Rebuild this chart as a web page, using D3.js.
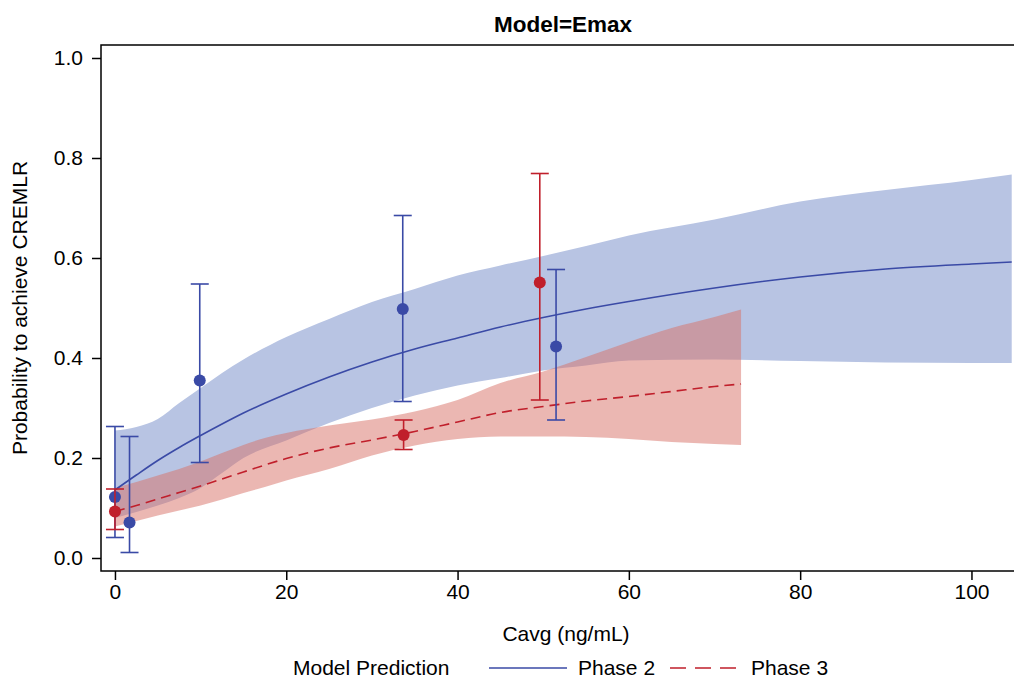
<!DOCTYPE html>
<html>
<head>
<meta charset="utf-8">
<script src="https://cdn.jsdelivr.net/npm/d3@7"></script>
<style>
  body { margin: 0; background: #fff; }
  text { font-family: "Liberation Sans", Arial, sans-serif; fill: #000; }
</style>
</head>
<body>
<div id="chart"></div>
<script>
// ---- data ----
var xTicks = [0, 20, 40, 60, 80, 100];
var yTicks = [0, 0.2, 0.4, 0.6, 0.8, 1.0];

// Phase 2 model prediction (median + band)
var p2Cavg = [0, 2.5, 5, 7.5, 10, 12.5, 15, 20, 25, 30, 35, 40, 45, 50, 55, 60, 70, 80, 90, 100, 104.7];
var p2Mean = [0.136, 0.166, 0.195, 0.221, 0.245, 0.268, 0.29, 0.328, 0.362, 0.392, 0.418, 0.44, 0.462, 0.481, 0.498, 0.513, 0.54, 0.562, 0.578, 0.588, 0.592];
var p2Lo   = [0.08, 0.092, 0.105, 0.12, 0.14, 0.17, 0.2, 0.235, 0.27, 0.3, 0.325, 0.345, 0.36, 0.375, 0.385, 0.395, 0.397, 0.394, 0.391, 0.39, 0.39];
var p2Hi   = [0.255, 0.262, 0.278, 0.31, 0.34, 0.37, 0.397, 0.442, 0.478, 0.512, 0.538, 0.565, 0.585, 0.604, 0.624, 0.645, 0.677, 0.713, 0.736, 0.756, 0.767];

// Phase 3 model prediction
var p3Cavg = [0, 2.5, 5, 7.5, 10, 12.5, 15, 17.5, 20, 25, 30, 35, 40, 45, 50, 55, 60, 65, 70, 73.1];
var p3Mean = [0.093, 0.105, 0.118, 0.131, 0.144, 0.158, 0.172, 0.186, 0.199, 0.22, 0.236, 0.253, 0.272, 0.291, 0.303, 0.314, 0.323, 0.333, 0.343, 0.348];
var p3Lo   = [0.063, 0.074, 0.085, 0.095, 0.105, 0.117, 0.13, 0.142, 0.155, 0.178, 0.205, 0.225, 0.238, 0.243, 0.243, 0.242, 0.238, 0.232, 0.228, 0.226];
var p3Hi   = [0.14, 0.152, 0.165, 0.178, 0.193, 0.21, 0.226, 0.24, 0.25, 0.265, 0.277, 0.293, 0.316, 0.35, 0.373, 0.402, 0.432, 0.46, 0.482, 0.497];

// observed proportions with error bars
var obs2 = [
  { cavg: 0, p: 0.122, lo: 0.041, hi: 0.263 },
  { cavg: 1.7, p: 0.071, lo: 0.011, hi: 0.243 },
  { cavg: 9.9, p: 0.355, lo: 0.191, hi: 0.548 },
  { cavg: 33.6, p: 0.498, lo: 0.313, hi: 0.685 },
  { cavg: 51.5, p: 0.423, lo: 0.276, hi: 0.577 }
];
var obs3 = [
  { cavg: 0, p: 0.093, lo: 0.057, hi: 0.138 },
  { cavg: 33.7, p: 0.246, lo: 0.217, hi: 0.276 },
  { cavg: 49.6, p: 0.551, lo: 0.316, hi: 0.769 }
];

var blue = '#3a4aa6', red = '#c01f2b';

var width = 1014, height = 679;
var mLeft = 101, mRight = 1016, mTop = 45, mBottom = 571;
var fs = 21;

var xScale = d3.scaleLinear().domain([-1.63, 105.2]).range([mLeft, mRight]);
var yScale = d3.scaleLinear().domain([-0.026, 1.026]).range([mBottom, mTop]);

var svg = d3.select('#chart').append('svg')
    .attr('width', width)
    .attr('height', height);

function rows(xs, m, lo, hi) {
    return xs.map(function (x, i) { return { x: x, m: m[i], lo: lo[i], hi: hi[i] }; });
}
var p2 = rows(p2Cavg, p2Mean, p2Lo, p2Hi);
var p3 = rows(p3Cavg, p3Mean, p3Lo, p3Hi);

var area = d3.area()
    .x(function (d) { return xScale(d.x); })
    .y0(function (d) { return yScale(d.lo); })
    .y1(function (d) { return yScale(d.hi); })
    .curve(d3.curveMonotoneX);

var line = d3.line()
    .x(function (d) { return xScale(d.x); })
    .y(function (d) { return yScale(d.m); })
    .curve(d3.curveMonotoneX);

// bands
svg.append('path').datum(p2).attr('d', area).attr('fill', '#b8c4e3');
svg.append('path').datum(p3).attr('d', area).attr('fill', 'rgb(215,111,101)').attr('fill-opacity', 0.5);

// prediction lines
svg.append('path').datum(p2).attr('d', line)
    .attr('fill', 'none').attr('stroke', blue).attr('stroke-width', 1.6);
svg.append('path').datum(p3).attr('d', line)
    .attr('fill', 'none').attr('stroke', red).attr('stroke-width', 1.6)
    .attr('stroke-dasharray', '10,6');

// observed points + error bars
function drawObs(data, col) {
    var cap = 9;
    var e = svg.append('g').selectAll('g').data(data).enter().append('g');
    e.append('line')
        .attr('x1', function (d) { return xScale(d.cavg); })
        .attr('x2', function (d) { return xScale(d.cavg); })
        .attr('y1', function (d) { return yScale(d.lo); })
        .attr('y2', function (d) { return yScale(d.hi); })
        .attr('stroke', col).attr('stroke-width', 1.6);
    ['lo', 'hi'].forEach(function (k) {
        e.append('line')
            .attr('x1', function (d) { return xScale(d.cavg) - cap; })
            .attr('x2', function (d) { return xScale(d.cavg) + cap; })
            .attr('y1', function (d) { return yScale(d[k]); })
            .attr('y2', function (d) { return yScale(d[k]); })
            .attr('stroke', col).attr('stroke-width', 1.6);
    });
    e.append('circle')
        .attr('cx', function (d) { return xScale(d.cavg); })
        .attr('cy', function (d) { return yScale(d.p); })
        .attr('r', 6)
        .attr('fill', col);
}
drawObs(obs2, blue);
drawObs(obs3, red);

// frame
svg.append('rect')
    .attr('x', mLeft).attr('y', mTop)
    .attr('width', mRight - mLeft).attr('height', mBottom - mTop)
    .attr('fill', 'none').attr('stroke', '#000').attr('stroke-width', 1.5);

// axes
var yAxis = svg.append('g')
    .attr('transform', 'translate(' + mLeft + ',0)')
    .call(d3.axisLeft(yScale).tickValues(yTicks).tickFormat(d3.format('.1f')).tickSize(9).tickSizeOuter(0));
var xAxis = svg.append('g')
    .attr('transform', 'translate(0,' + mBottom + ')')
    .call(d3.axisBottom(xScale).tickValues(xTicks).tickSize(9).tickSizeOuter(0));
[xAxis, yAxis].forEach(function (a) {
    a.select('.domain').remove();
    a.selectAll('.tick line').attr('stroke', '#000').attr('stroke-width', 1.5);
    a.selectAll('.tick text').attr('font-size', fs).attr('font-family', '"Liberation Sans", Arial, sans-serif').attr('fill', '#000');
});
yAxis.selectAll('.tick text').attr('x', -18);
xAxis.selectAll('.tick text').attr('y', 13);

// titles
svg.append('text')
    .attr('x', 563).attr('y', 32)
    .attr('text-anchor', 'middle')
    .attr('font-size', 22.5).attr('font-weight', 'bold')
    .text('Model=Emax');

svg.append('text')
    .attr('x', 566).attr('y', 641)
    .attr('text-anchor', 'middle')
    .attr('font-size', fs)
    .text('Cavg (ng/mL)');

svg.append('text')
    .attr('transform', 'translate(27,' + ((mTop + mBottom) / 2) + ') rotate(-90)')
    .attr('text-anchor', 'middle')
    .attr('font-size', fs)
    .text('Probability to achieve CREMLR');

// legend
var ly = 668;
svg.append('text').attr('x', 293).attr('y', ly + 7).attr('font-size', fs).text('Model Prediction');
svg.append('line').attr('x1', 489).attr('x2', 567).attr('y1', ly).attr('y2', ly)
    .attr('stroke', blue).attr('stroke-width', 1.6);
svg.append('text').attr('x', 578).attr('y', ly + 7).attr('font-size', fs).text('Phase 2');
svg.append('line').attr('x1', 670).attr('x2', 736).attr('y1', ly).attr('y2', ly)
    .attr('stroke', red).attr('stroke-width', 1.6).attr('stroke-dasharray', '16,9');
svg.append('text').attr('x', 751).attr('y', ly + 7).attr('font-size', fs).text('Phase 3');
</script>
</body>
</html>
